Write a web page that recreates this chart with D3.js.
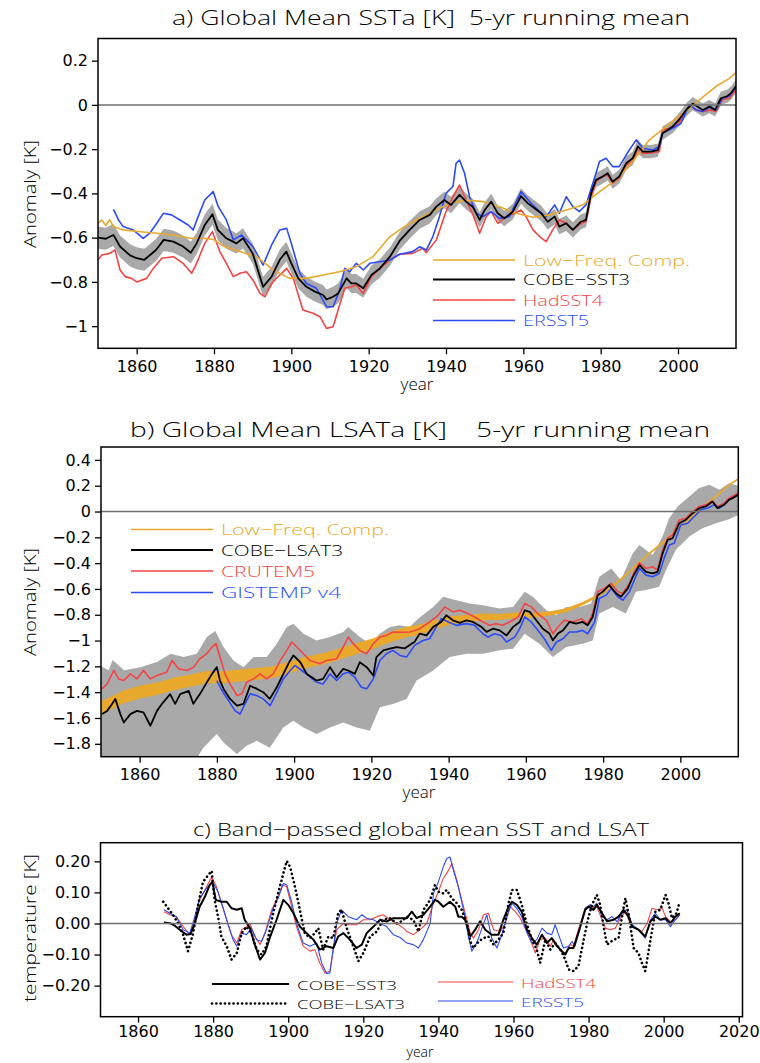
<!DOCTYPE html>
<html>
<head>
<meta charset="utf-8">
<script src="https://cdn.jsdelivr.net/npm/d3@7"></script>
<style>
  body { margin: 0; background: #fff; }
  svg text { font-family: "DejaVu Sans", sans-serif; fill: #000; white-space: pre; }
  svg text.thin { font-family: "Open Sans", "DejaVu Sans", sans-serif; font-weight: 300; }
</style>
</head>
<body>
<svg id="fig" width="760" height="1063"></svg>
<script>
// ---- panel a: global mean SST anomaly, 5-yr running mean [year, K]
const sstCobe = [[1850,-0.60],[1852,-0.605],[1854,-0.588],[1855.7,-0.64],[1858.3,-0.68],[1860,-0.693],[1862,-0.70],[1865,-0.656],[1867,-0.61],[1869.5,-0.618],[1872,-0.64],[1874,-0.668],[1875.5,-0.626],[1877.6,-0.543],[1879.6,-0.494],[1881,-0.565],[1883.2,-0.603],[1885.8,-0.626],[1887.5,-0.603],[1890,-0.671],[1892.7,-0.822],[1894.9,-0.776],[1897,-0.70],[1898.7,-0.663],[1900,-0.716],[1901.8,-0.784],[1903.9,-0.822],[1906.1,-0.844],[1908.2,-0.859],[1909.1,-0.879],[1910.8,-0.867],[1912.1,-0.852],[1914.3,-0.784],[1915.5,-0.807],[1916.8,-0.807],[1918.6,-0.829],[1920.7,-0.769],[1922.9,-0.739],[1925.5,-0.686],[1928,-0.615],[1930.6,-0.565],[1933.2,-0.52],[1935.8,-0.497],[1937.5,-0.46],[1939.6,-0.43],[1941.3,-0.452],[1943.5,-0.407],[1945.2,-0.437],[1946.9,-0.46],[1948.7,-0.52],[1950,-0.475],[1951.7,-0.437],[1953.4,-0.49],[1955.1,-0.513],[1957.3,-0.482],[1959.4,-0.412],[1961.2,-0.445],[1962.9,-0.467],[1964.6,-0.49],[1966.3,-0.528],[1968.1,-0.505],[1969.3,-0.55],[1971.1,-0.535],[1972.8,-0.565],[1974.9,-0.528],[1976.2,-0.52],[1977.5,-0.40],[1978.8,-0.339],[1980.5,-0.324],[1981.8,-0.309],[1983.1,-0.347],[1984.8,-0.324],[1986.6,-0.264],[1988.3,-0.241],[1989.6,-0.188],[1990.9,-0.211],[1993,-0.211],[1994.8,-0.204],[1996,-0.128],[1997.3,-0.113],[1998.6,-0.098],[2000.4,-0.064],[2002.1,-0.023],[2003.8,0.006],[2005.1,-0.008],[2006.4,-0.023],[2008.1,-0.008],[2009.6,-0.023],[2011.1,0.03],[2012.8,0.04],[2013.7,0.053],[2015,0.085]];
const sstSpread = [[1850,0.05],[1870,0.05],[1890,0.045],[1910,0.045],[1930,0.04],[1950,0.035],[1970,0.035],[1990,0.03],[2015,0.03]];
const sstLow = [[1850,-0.535],[1851,-0.52],[1852,-0.545],[1853,-0.52],[1854,-0.55],[1856.5,-0.565],[1860.9,-0.573],[1865.2,-0.58],[1869.5,-0.588],[1873.8,-0.603],[1877.2,-0.603],[1879.8,-0.608],[1882.4,-0.638],[1886.7,-0.663],[1891,-0.686],[1895.3,-0.746],[1899.6,-0.784],[1903.9,-0.784],[1908.2,-0.769],[1912.5,-0.754],[1916.8,-0.731],[1921.1,-0.686],[1925.5,-0.595],[1928,-0.565],[1930,-0.543],[1932.3,-0.52],[1936.6,-0.482],[1940.9,-0.445],[1945.2,-0.43],[1949.5,-0.437],[1953.8,-0.46],[1958.1,-0.49],[1962.5,-0.508],[1966.8,-0.497],[1971.1,-0.475],[1975.4,-0.452],[1979.7,-0.392],[1984,-0.339],[1988.3,-0.256],[1992.6,-0.158],[1996.9,-0.098],[2001.2,-0.038],[2005.5,0.023],[2009.8,0.083],[2013.3,0.12],[2015,0.146]];
const sstHad = [[1850,-0.70],[1851,-0.678],[1853,-0.671],[1854.4,-0.656],[1855.7,-0.746],[1857,-0.776],[1858.7,-0.784],[1860,-0.80],[1862.6,-0.784],[1864.3,-0.739],[1866.5,-0.693],[1869.5,-0.686],[1872,-0.716],[1874.2,-0.761],[1875.5,-0.716],[1877.6,-0.626],[1879.6,-0.573],[1881.5,-0.663],[1883.2,-0.716],[1885,-0.776],[1886.7,-0.761],[1888.4,-0.754],[1890.1,-0.792],[1891.9,-0.852],[1893.2,-0.867],[1894.9,-0.807],[1897,-0.769],[1898.8,-0.739],[1900.5,-0.784],[1903,-0.927],[1905.6,-0.942],[1907.4,-0.957],[1909.1,-1.01],[1910.8,-1.003],[1912.1,-0.927],[1913.8,-0.829],[1915.5,-0.822],[1916.8,-0.814],[1918.6,-0.852],[1920.7,-0.776],[1922.9,-0.739],[1925.5,-0.701],[1928,-0.675],[1931.4,-0.671],[1934,-0.648],[1934.9,-0.668],[1937.5,-0.61],[1940,-0.482],[1941.8,-0.415],[1943.5,-0.362],[1945.2,-0.43],[1947,-0.497],[1948.7,-0.58],[1950.4,-0.505],[1951.7,-0.482],[1953.4,-0.535],[1955.6,-0.505],[1957.7,-0.49],[1959.4,-0.475],[1960.7,-0.505],[1962.5,-0.565],[1964.2,-0.595],[1965.9,-0.618],[1967.6,-0.565],[1969.3,-0.52],[1971.1,-0.535],[1972.8,-0.565],[1974.9,-0.535],[1976.2,-0.528],[1977.5,-0.415],[1978.8,-0.347],[1980.5,-0.324],[1981.8,-0.317],[1983.1,-0.354],[1984.8,-0.332],[1986.6,-0.271],[1988.3,-0.256],[1989.6,-0.20],[1990.9,-0.219],[1993.5,-0.216],[1995.2,-0.211],[1996,-0.113],[1997.8,-0.106],[1999,-0.098],[2000.8,-0.068],[2002.9,0],[2004.7,-0.023],[2006.4,-0.03],[2008.5,-0.023],[2009.8,-0.03],[2011.5,0.023],[2013.3,0.03],[2015,0.068]];
const sstErs = [[1854,-0.472],[1855.3,-0.52],[1856.5,-0.55],[1859.1,-0.565],[1861.7,-0.603],[1863.4,-0.58],[1865.2,-0.535],[1866.9,-0.49],[1869,-0.497],[1871.2,-0.52],[1873.3,-0.543],[1874.6,-0.565],[1875.9,-0.505],[1877.6,-0.43],[1879.8,-0.392],[1881.1,-0.46],[1883.2,-0.52],[1885,-0.61],[1887.1,-0.588],[1888.4,-0.61],[1890.1,-0.641],[1892.7,-0.724],[1894.9,-0.633],[1897,-0.565],[1898.8,-0.558],[1900,-0.626],[1902.2,-0.761],[1903.9,-0.807],[1906.5,-0.829],[1909.1,-0.912],[1910.8,-0.912],[1912.5,-0.837],[1913.8,-0.739],[1915.1,-0.754],[1916.8,-0.716],[1918.6,-0.746],[1920.3,-0.716],[1922.9,-0.709],[1925.5,-0.701],[1928,-0.675],[1931.4,-0.663],[1933.2,-0.641],[1934.9,-0.656],[1936.6,-0.595],[1938.3,-0.505],[1940,-0.40],[1941.8,-0.369],[1942.6,-0.264],[1943.5,-0.249],[1944.8,-0.309],[1946.1,-0.415],[1947.8,-0.49],[1949.5,-0.505],[1951.7,-0.482],[1953.8,-0.513],[1956.4,-0.505],[1959.4,-0.392],[1961.6,-0.437],[1964.2,-0.482],[1965.9,-0.505],[1968.1,-0.452],[1969.3,-0.49],[1971.1,-0.415],[1972.8,-0.46],[1974.5,-0.482],[1976.2,-0.452],[1978,-0.354],[1979.7,-0.256],[1981.4,-0.241],[1983.1,-0.279],[1984.8,-0.279],[1987.4,-0.204],[1989.2,-0.158],[1990.9,-0.196],[1993.5,-0.204],[1995.2,-0.188],[1996,-0.128],[1998.6,-0.106],[2000.8,-0.083],[2002.9,0],[2004.7,-0.023],[2006.4,-0.03],[2008.5,-0.008],[2009.8,-0.023],[2011.5,0.03],[2013.3,0.04],[2015,0.08]];

// ---- panel b: global mean land surface air temperature anomaly [year, K]
const lsatCobe = [[1850.3,-1.57],[1851.6,-1.545],[1852.9,-1.49],[1853.7,-1.452],[1855,-1.57],[1855.9,-1.635],[1857.6,-1.57],[1859.3,-1.545],[1861,-1.556],[1862.8,-1.66],[1864.5,-1.545],[1865.8,-1.49],[1867.9,-1.415],[1869.2,-1.49],[1870.5,-1.415],[1872.7,-1.39],[1873.9,-1.49],[1875.6,-1.415],[1877.4,-1.324],[1878.7,-1.26],[1880,-1.206],[1880.8,-1.31],[1881.7,-1.373],[1883.4,-1.452],[1885.2,-1.505],[1886.9,-1.49],[1888.6,-1.35],[1890.3,-1.373],[1892,-1.40],[1893.7,-1.452],[1895.5,-1.362],[1896.8,-1.284],[1898.5,-1.18],[1899.8,-1.115],[1901.6,-1.168],[1903.3,-1.26],[1905.8,-1.31],[1907.5,-1.297],[1909.3,-1.206],[1911,-1.284],[1912.7,-1.219],[1914,-1.232],[1915.7,-1.258],[1917,-1.168],[1918.8,-1.206],[1920.5,-1.271],[1921.3,-1.128],[1923.1,-1.076],[1924.8,-1.063],[1926.5,-1.05],[1928.7,-1.06],[1930.4,-1.024],[1931.2,-1.01],[1932.5,-0.946],[1934.3,-0.96],[1936,-0.894],[1938.1,-0.856],[1939.4,-0.804],[1941.1,-0.843],[1942.9,-0.863],[1944.6,-0.843],[1946.3,-0.856],[1948.5,-0.894],[1949.8,-0.933],[1951.5,-0.908],[1953.2,-0.921],[1955,-0.96],[1956.7,-0.894],[1958.4,-0.856],[1959.7,-0.765],[1961,-0.778],[1962.7,-0.843],[1964.4,-0.908],[1966.1,-0.946],[1967,-0.998],[1968.3,-0.946],[1969.6,-0.921],[1971.3,-0.856],[1973,-0.869],[1974.7,-0.856],[1976,-0.882],[1977.3,-0.817],[1978.6,-0.648],[1979.9,-0.622],[1981.6,-0.57],[1983.4,-0.635],[1984.6,-0.661],[1986.4,-0.596],[1987.7,-0.506],[1989.4,-0.415],[1991.1,-0.467],[1992.8,-0.48],[1994.1,-0.467],[1995.4,-0.324],[1996.7,-0.22],[1998,-0.207],[1999.7,-0.091],[2001.4,-0.065],[2003.2,-0.013],[2004.9,0.026],[2006.6,0.039],[2008.3,0.078],[2009.6,0.026],[2011.3,0.052],[2012.6,0.091],[2013.5,0.104],[2015,0.13]];
const lsatBandHi = [[1850,-1.20],[1852,-1.23],[1853,-1.15],[1856,-1.23],[1860.2,-1.206],[1864.5,-1.167],[1868,-1.102],[1871.4,-1.128],[1874.8,-1.102],[1877.4,-0.973],[1879.6,-0.926],[1881.7,-1.05],[1884.3,-1.154],[1886.9,-1.206],[1889.5,-1.128],[1892.9,-1.128],[1895.5,-1.024],[1898.1,-0.895],[1899.8,-0.869],[1902.4,-0.947],[1905.8,-0.999],[1909.3,-0.973],[1912.7,-0.934],[1914,-0.895],[1917,-0.973],[1919.6,-1.024],[1922.2,-0.947],[1924.8,-0.895],[1927.3,-0.882],[1929.9,-0.895],[1932.1,-0.83],[1936,-0.739],[1938.6,-0.661],[1942,-0.687],[1945.5,-0.713],[1948.9,-0.726],[1953.2,-0.752],[1956.7,-0.739],[1959.7,-0.622],[1961.8,-0.661],[1965.3,-0.765],[1967.9,-0.804],[1970.4,-0.739],[1973.9,-0.739],[1976.9,-0.713],[1979,-0.506],[1982.1,-0.441],[1984.6,-0.531],[1987.7,-0.324],[1989.4,-0.259],[1992.8,-0.337],[1995.4,-0.194],[1997.1,-0.052],[1999.3,0.039],[2002.3,0.117],[2004.9,0.182],[2007.5,0.208],[2010.1,0.169],[2012.6,0.22],[2015,0.2]];
const lsatBandLo = [[1850,-2.0],[1873,-2.0],[1876.5,-1.83],[1880,-1.725],[1881.7,-1.79],[1885.2,-1.88],[1887.7,-1.816],[1890.3,-1.777],[1893.7,-1.83],[1897.2,-1.673],[1899.8,-1.621],[1902.4,-1.673],[1905.8,-1.725],[1909.3,-1.673],[1912.7,-1.634],[1916.2,-1.673],[1919.6,-1.699],[1922.2,-1.517],[1925.6,-1.491],[1929.1,-1.452],[1931.7,-1.31],[1936,-1.232],[1940.3,-1.128],[1944.6,-1.102],[1948.9,-1.102],[1953.2,-1.076],[1956.7,-1.063],[1959.7,-0.947],[1963.5,-1.024],[1967,-1.128],[1970.4,-1.05],[1974.7,-1.024],[1977.3,-0.999],[1979,-0.791],[1982.5,-0.739],[1985.9,-0.791],[1988.5,-0.622],[1991.1,-0.609],[1994.5,-0.583],[1996.3,-0.454],[1998.8,-0.298],[2002.3,-0.194],[2005.7,-0.13],[2009.2,-0.091],[2012.6,-0.06],[2015,-0.026]];
const lsatLow = [[1850.3,-1.517],[1855.9,-1.437],[1860.2,-1.398],[1864.5,-1.374],[1868.8,-1.336],[1873.1,-1.31],[1877.4,-1.284],[1881.7,-1.284],[1886,-1.271],[1890.3,-1.258],[1894.6,-1.245],[1899,-1.206],[1903.3,-1.167],[1907.6,-1.141],[1911.9,-1.102],[1916.2,-1.063],[1920.5,-1.024],[1924.8,-0.973],[1929.1,-0.934],[1931.7,-0.921],[1936,-0.882],[1940.3,-0.843],[1944.6,-0.83],[1948.9,-0.817],[1953.2,-0.817],[1957.5,-0.804],[1961.8,-0.804],[1966.1,-0.791],[1970.4,-0.765],[1974.7,-0.713],[1979,-0.648],[1983.4,-0.557],[1987.7,-0.441],[1992,-0.324],[1996.3,-0.22],[2000.6,-0.104],[2004.9,0.013],[2009.2,0.117],[2012.6,0.207],[2015,0.252]];
const lsatLowWidth = [[1850,0.05],[1900,0.045],[1930,0.04],[1950,0.025],[1970,0.015],[1985,0.008],[2015,0.006]];
const lsatCru = [[1850.3,-1.374],[1851.6,-1.335],[1853.3,-1.232],[1854.6,-1.297],[1855.9,-1.31],[1857.6,-1.258],[1859.3,-1.297],[1861,-1.232],[1862.8,-1.297],[1864.5,-1.271],[1867,-1.245],[1868.4,-1.155],[1870.1,-1.219],[1872.3,-1.232],[1874,-1.206],[1875.6,-1.141],[1877.4,-1.102],[1878.7,-1.05],[1879.8,-1.024],[1880.8,-1.128],[1882.1,-1.258],[1883.4,-1.336],[1885.2,-1.426],[1886.5,-1.413],[1887.7,-1.323],[1889.5,-1.297],[1891.2,-1.258],[1892.9,-1.297],[1894.6,-1.258],[1896.4,-1.155],[1898.1,-1.076],[1899.4,-1.011],[1900.7,-1.05],[1902.4,-1.102],[1904.1,-1.154],[1906.7,-1.18],[1908.4,-1.154],[1911,-1.141],[1912.7,-1.05],[1914,-0.973],[1915.3,-1.024],[1917,-1.076],[1918.8,-1.102],[1920.5,-1.024],[1922.2,-0.973],[1923.9,-0.96],[1925.6,-0.934],[1927.4,-0.935],[1930,-0.934],[1932.5,-0.908],[1935.1,-0.856],[1937.3,-0.804],[1939,-0.739],[1941.1,-0.778],[1942.9,-0.765],[1945,-0.791],[1946.7,-0.817],[1948.9,-0.856],[1950.6,-0.882],[1952.3,-0.869],[1954,-0.882],[1955.8,-0.856],[1958,-0.817],[1959.7,-0.713],[1961.4,-0.739],[1963.1,-0.791],[1965.3,-0.843],[1967,-0.947],[1968.3,-0.895],[1970,-0.843],[1972.2,-0.856],[1974.3,-0.83],[1976,-0.869],[1977.3,-0.791],[1978.6,-0.622],[1980.3,-0.596],[1982.1,-0.557],[1983.8,-0.622],[1985.1,-0.635],[1986.8,-0.557],[1988.1,-0.467],[1989.4,-0.397],[1991.1,-0.441],[1992.8,-0.428],[1994.1,-0.454],[1995.4,-0.298],[1996.7,-0.207],[1998,-0.181],[1999.7,-0.065],[2001.4,-0.052],[2003.2,0],[2004.9,0.039],[2006.6,0.052],[2008.3,0.083],[2009.6,0.039],[2011.3,0.065],[2012.6,0.104],[2015,0.145]];
const lsatGis = [[1880,-1.31],[1881.3,-1.387],[1883,-1.465],[1884.7,-1.543],[1886,-1.569],[1887.3,-1.491],[1888.6,-1.413],[1890.3,-1.426],[1892,-1.452],[1893.8,-1.504],[1895.1,-1.426],[1897.2,-1.297],[1899,-1.232],[1900.2,-1.193],[1902,-1.232],[1903.7,-1.271],[1905.8,-1.323],[1907.5,-1.336],[1909.3,-1.258],[1911,-1.31],[1912.7,-1.258],[1914,-1.245],[1915.7,-1.284],[1917.4,-1.362],[1918.8,-1.374],[1920.5,-1.297],[1922.2,-1.154],[1923.9,-1.102],[1925.6,-1.076],[1927.4,-1.115],[1929.1,-1.128],[1931.2,-1.037],[1933.4,-0.999],[1935.1,-0.986],[1936.8,-0.895],[1938.1,-0.83],[1939.9,-0.856],[1942,-0.882],[1944.6,-0.869],[1946.7,-0.882],[1948.9,-0.947],[1950.2,-0.973],[1951.9,-0.947],[1953.6,-0.96],[1955,-1.011],[1957.1,-0.973],[1958.4,-0.908],[1959.7,-0.817],[1961.4,-0.856],[1963.1,-0.921],[1964.8,-0.986],[1966.6,-1.076],[1967.9,-1.011],[1969.6,-0.986],[1971.3,-0.934],[1973,-0.934],[1974.7,-0.921],[1976,-0.947],[1977.8,-0.856],[1979,-0.674],[1980.8,-0.648],[1982.1,-0.596],[1983.8,-0.661],[1985.1,-0.687],[1986.8,-0.622],[1988.1,-0.531],[1989.4,-0.441],[1991.1,-0.493],[1992.8,-0.506],[1994.5,-0.48],[1995.8,-0.363],[1997.1,-0.259],[1998.4,-0.246],[2000.1,-0.104],[2001.9,-0.091],[2003.6,-0.039],[2005.3,0.013],[2007,0.026],[2008.8,0.052],[2010.1,0.026],[2011.3,0.052],[2012.6,0.091],[2015,0.13]];

// ---- panel c: band-passed global mean SST and LSAT [year, K]
const bpSstCobe = [[1866.9,0.003],[1868.5,0.001],[1869.8,-0.007],[1871.6,-0.025],[1872.9,-0.036],[1874,-0.034],[1875.1,0],[1876.4,0.054],[1877.8,0.086],[1879.1,0.124],[1879.8,0.134],[1880.7,0.076],[1882.2,0.07],[1883.6,0.07],[1884.9,0.049],[1886.3,0.044],[1887.6,0.049],[1888.4,0.012],[1889.8,-0.015],[1891.1,-0.068],[1892.5,-0.116],[1893.8,-0.095],[1895.2,-0.042],[1896.9,0.012],[1898.7,0.076],[1900,0.06],[1901.4,0.033],[1903.1,-0.01],[1904.9,-0.031],[1906.7,-0.052],[1908.4,-0.084],[1910.2,-0.073],[1912,-0.079],[1913.3,-0.042],[1914.7,-0.031],[1916.4,-0.052],[1918.2,-0.079],[1919.6,-0.068],[1920.9,-0.031],[1922.7,-0.01],[1924.5,0.012],[1926.2,0.006],[1928,0.017],[1930.2,0.017],[1931.6,0.017],[1932.9,0.038],[1934.2,0.017],[1936,0.028],[1937.8,0.054],[1939.1,0.076],[1940,0.07],[1941.3,0.054],[1943.1,0.07],[1944.5,0.054],[1945.3,0.022],[1946.2,0.022],[1947.1,0.012],[1948.5,-0.042],[1949.8,-0.02],[1951.1,0.007],[1952.5,-0.02],[1954.2,-0.036],[1956,-0.036],[1957.3,0.012],[1958.7,0.054],[1959.6,0.07],[1960.9,0.06],[1962.2,0.038],[1963.6,-0.02],[1964.9,-0.047],[1966.2,-0.068],[1967.6,-0.036],[1968.9,-0.063],[1970.2,-0.047],[1971.6,-0.073],[1972.9,-0.089],[1973.8,-0.1],[1974.7,-0.079],[1976,-0.079],[1977.8,-0.01],[1979.1,0.044],[1980,0.054],[1981.3,0.044],[1982.2,0.06],[1983.6,0.033],[1984.9,0.007],[1986.7,0.012],[1988,0.022],[1989.3,0.044],[1990.7,0.022],[1991.6,-0.01],[1993.3,-0.02],[1995.1,-0.042],[1996.5,0.007],[1997.8,0.022],[1999.1,0.012],[2000.5,0.017],[2001.8,0],[2003.1,0.022],[2004.3,0.033]];
const bpLsatCobe = [[1866.7,0.07],[1868,0.049],[1869.3,0.028],[1870.7,0],[1872,-0.036],[1873.3,-0.089],[1874.7,-0.031],[1876,0.06],[1877.3,0.134],[1878.7,0.156],[1879.6,0.169],[1880.4,0.076],[1881.3,0.022],[1882.2,-0.042],[1883.6,-0.073],[1884.9,-0.116],[1886.3,-0.095],[1887.6,-0.031],[1888.9,-0.01],[1890.2,-0.031],[1891.6,-0.084],[1892.9,-0.1],[1894.2,-0.073],[1896,0.033],[1897.3,0.097],[1898.7,0.161],[1899.6,0.201],[1900.5,0.182],[1901.8,0.118],[1903.1,0.044],[1904.4,-0.031],[1905.8,-0.047],[1907.1,-0.031],[1908,-0.015],[1909.3,-0.084],[1910.7,-0.042],[1912,-0.047],[1913.3,0.033],[1914.2,0.044],[1915.6,-0.015],[1917.3,-0.073],[1918.7,-0.121],[1920,-0.095],[1921.8,-0.042],[1923.6,-0.026],[1925.3,0.012],[1927.1,0.017],[1928.9,0],[1930.2,0.007],[1931.6,0.022],[1933.3,0.012],[1934.7,-0.026],[1936,0.044],[1937.8,0.076],[1939.1,0.124],[1940,0.102],[1941.3,0.097],[1942.2,0.108],[1943.6,0.081],[1944.9,0.065],[1946.2,0.044],[1947.6,0],[1948.5,-0.058],[1949.3,-0.079],[1950.7,-0.058],[1952,-0.047],[1953.3,-0.042],[1954.7,-0.068],[1956,-0.052],[1957.3,-0.031],[1958.7,0.065],[1959.6,0.108],[1960.9,0.108],[1962.2,0.06],[1963.6,-0.004],[1964.9,-0.052],[1966.2,-0.084],[1967.1,-0.127],[1968.5,-0.052],[1969.8,-0.084],[1971.1,-0.063],[1972.5,-0.084],[1973.8,-0.116],[1974.7,-0.148],[1976,-0.153],[1977.3,-0.137],[1978.7,-0.052],[1980,0.022],[1980.9,0.06],[1982.2,0.092],[1983.1,0.06],[1984,-0.01],[1984.9,-0.068],[1986.7,-0.052],[1988,-0.047],[1988.9,0.022],[1989.8,0.081],[1990.7,0.028],[1992,-0.079],[1993.3,-0.095],[1994.2,-0.127],[1995.1,-0.153],[1996.5,-0.052],[1997.8,0.038],[1999.1,0.044],[2000.5,0.092],[2001.3,0.065],[2002.2,0.017],[2003.4,0.033],[2004.3,0.07]];
const bpHad = [[1866.9,0.038],[1868.5,0.028],[1870.2,0.022],[1872,-0.01],[1873.8,-0.036],[1875.1,0.012],[1876.4,0.076],[1877.8,0.108],[1879.6,0.15],[1880.9,0.118],[1882.2,0.065],[1883.6,0.012],[1884.9,-0.036],[1886.3,-0.063],[1887.6,-0.02],[1888.9,-0.01],[1889.8,0],[1891.1,-0.042],[1892.5,-0.068],[1893.8,-0.031],[1895.6,0.044],[1896.9,0.076],[1898.5,0.124],[1899.6,0.118],[1900.9,0.054],[1902.2,-0.01],[1904,-0.073],[1905.8,-0.089],[1907.1,-0.084],[1908.4,-0.127],[1909.8,-0.159],[1911.1,-0.153],[1912.9,-0.02],[1914.7,0],[1916.4,-0.004],[1918.2,-0.004],[1920,0.012],[1921.8,0.012],[1923.6,0.022],[1925.3,0.028],[1927.1,0.012],[1928.9,0],[1930.7,-0.015],[1931.6,-0.026],[1933.3,-0.036],[1935.1,-0.02],[1936.9,0],[1938.7,0.065],[1940,0.102],[1941.3,0.145],[1942.7,0.171],[1943.6,0.193],[1944.9,0.14],[1946.2,0.076],[1947.6,0.012],[1948.5,-0.031],[1949.3,-0.047],[1950.7,-0.02],[1952,0.028],[1953.3,0.033],[1954.7,-0.02],[1956.5,-0.026],[1957.8,0],[1959.1,0.054],[1960.5,0.038],[1961.8,0.017],[1963.1,-0.015],[1964.5,-0.052],[1965.8,-0.095],[1967.1,-0.052],[1968.5,-0.047],[1969.8,-0.073],[1970.7,-0.052],[1972,-0.079],[1973.3,-0.1],[1974.2,-0.089],[1975.1,-0.068],[1976,-0.073],[1977.8,0],[1979.1,0.049],[1980.4,0.06],[1981.3,0.049],[1982.2,0.054],[1983.6,0.012],[1984.5,-0.015],[1985.8,-0.02],[1987.1,-0.015],[1988.5,0.017],[1989.8,0.038],[1991.1,0],[1992.5,-0.015],[1994.2,-0.026],[1995.6,0],[1996.9,0.049],[1998.2,0.044],[1999.6,0.049],[2000.5,0.022],[2001.8,0.006],[2003.1,0.012],[2004.3,0.028]];
const bpErs = [[1866.9,0.044],[1868.5,0.033],[1870.2,0.022],[1872,-0.02],[1873.8,-0.031],[1875.1,0.022],[1876.4,0.081],[1878.2,0.113],[1879.8,0.134],[1881.3,0.102],[1882.7,0.049],[1884,-0.004],[1885.3,-0.052],[1886.3,-0.073],[1887.6,-0.031],[1888.9,-0.036],[1890.2,-0.015],[1891.6,-0.052],[1892.9,-0.058],[1894.2,-0.02],[1896,0.049],[1897.3,0.081],[1898.7,0.129],[1899.6,0.124],[1900.9,0.07],[1902.2,0],[1904,-0.063],[1905.8,-0.073],[1907.6,-0.063],[1908.9,-0.127],[1910.2,-0.161],[1911.1,-0.159],[1912.9,0],[1914.2,0.044],[1916,0.022],[1918.2,0.012],[1919.6,0.028],[1920.9,0.017],[1922.7,0.012],[1924.5,0],[1926.2,-0.01],[1928,-0.036],[1929.8,-0.045],[1931.6,-0.063],[1933.3,-0.068],[1934.7,-0.079],[1936,-0.052],[1937.8,0],[1938.7,0.097],[1940,0.134],[1941.3,0.182],[1942.2,0.209],[1943.1,0.214],[1944,0.171],[1945.3,0.118],[1946.7,0.044],[1948,-0.042],[1948.9,-0.089],[1950.2,-0.063],[1951.6,-0.015],[1952.9,0.028],[1954.2,-0.047],[1955.6,-0.079],[1956.9,-0.036],[1958.2,0.022],[1959.6,0.065],[1960.9,0.049],[1962.2,0.022],[1963.6,-0.031],[1964.9,-0.063],[1966.2,-0.052],[1967.6,-0.015],[1968.9,-0.031],[1970.2,-0.036],[1971.1,-0.004],[1972,-0.036],[1973.3,-0.079],[1974.7,-0.073],[1975.6,-0.058],[1976.4,-0.073],[1977.8,-0.01],[1979.1,0.049],[1980.4,0.06],[1981.3,0.054],[1982.2,0.065],[1983.6,0.022],[1984.9,0.012],[1986.2,0.022],[1987.6,0.006],[1988.9,0.033],[1990.2,0.044],[1991.6,-0.004],[1993.3,-0.02],[1995.1,-0.047],[1996.5,0.012],[1997.8,0.033],[1999.1,0.012],[2000.5,0.012],[2001.8,-0.01],[2003.1,0.012],[2004.3,0.028]];

// ---- ticks
const yTicksA = [-1, -0.8, -0.6, -0.4, -0.2, 0, 0.2];
const yTicksB = [-1.8, -1.6, -1.4, -1.2, -1, -0.8, -0.6, -0.4, -0.2, 0, 0.2, 0.4];
const yTicksC = [-0.2, -0.1, 0, 0.1, 0.2];
const xTicksAB = [1860, 1880, 1900, 1920, 1940, 1960, 1980, 2000];
const xTicksC = [1860, 1880, 1900, 1920, 1940, 1960, 1980, 2000, 2020];

const ORANGE = '#e8a92c', RED = '#f44444', BLUE = '#2b4bfb', BAND = '#a9a9a9';

const svg = d3.select('#fig');

function label(x, y, s, o = {}) {
  const t = svg.append('text').attr('x', x).attr('y', y).text(s)
    .attr('xml:space', 'preserve')
    .attr('font-size', o.size || 16)
    .attr('text-anchor', o.anchor || 'start')
    .classed('thin', !!o.thin);
  if (o.len) t.attr('textLength', o.len).attr('lengthAdjust', 'spacingAndGlyphs');
  if (o.fill) t.style('fill', o.fill);
  if (o.rotate) t.attr('transform', `rotate(-90,${x},${y})`);
  return t;
}

function frame(p, id) {
  const x = d3.scaleLinear().domain(p.xd).range([p.l, p.r]);
  const y = d3.scaleLinear().domain(p.yd).range([p.b, p.t]);
  svg.append('clipPath').attr('id', id).append('rect')
    .attr('x', p.l).attr('y', p.t).attr('width', p.r - p.l).attr('height', p.b - p.t);
  const g = svg.append('g').attr('clip-path', `url(#${id})`);
  return {x, y, g};
}

function axes(p, s, yTicks, xTicks, yFmt, xPad) {
  const ya = svg.append('g').attr('transform', `translate(${p.l},0)`)
    .call(d3.axisLeft(s.y).tickValues(yTicks).tickFormat(yFmt).tickSize(6).tickPadding(4));
  const xa = svg.append('g').attr('transform', `translate(0,${p.b})`)
    .call(d3.axisBottom(s.x).tickValues(xTicks).tickFormat(d3.format('d')).tickSize(6).tickPadding(xPad || 6));
  [ya, xa].forEach(a => {
    a.select('.domain').remove();
    a.selectAll('line').attr('stroke', '#000').attr('stroke-width', 1.3);
    a.selectAll('text').attr('font-size', 16).attr('font-family', '"DejaVu Sans", sans-serif');
  });
  // zero line
  svg.append('line').attr('x1', p.l).attr('x2', p.r).attr('y1', s.y(0)).attr('y2', s.y(0))
    .attr('stroke', '#707070').attr('stroke-width', 1.5);
}

function box(p) {
  svg.append('rect').attr('x', p.l).attr('y', p.t).attr('width', p.r - p.l).attr('height', p.b - p.t)
    .attr('fill', 'none').attr('stroke', '#000').attr('stroke-width', 1.5);
}

function drawLine(s, data, color, w, dash) {
  const path = s.g.append('path').datum(data)
    .attr('d', d3.line().x(d => s.x(d[0])).y(d => s.y(d[1])))
    .attr('fill', 'none').attr('stroke', color).attr('stroke-width', w)
    .attr('stroke-linejoin', 'round');
  if (dash) path.attr('stroke-dasharray', dash).attr('stroke-linecap', 'round');
  return path;
}

function legendRow(x1, x2, y, name, color, w, dash, len, size) {
  const l = svg.append('line').attr('x1', x1).attr('x2', x2).attr('y1', y).attr('y2', y)
    .attr('stroke', color).attr('stroke-width', w);
  if (dash) l.attr('stroke-dasharray', dash).attr('stroke-linecap', 'round');
  label(x2 + 8, y + 5.5, name, {size: size || 15, len: len, thin: true, fill: color});
}

const fmtAB = d3.format('~g');

// ================= panel a =================
const pa = {l: 98, r: 736, t: 38.5, b: 348.3, xd: [1850, 2015], yd: [-1.1, 0.3]};
const sa = frame(pa, 'clipA');
const spreadA = d3.scaleLinear().domain(sstSpread.map(d => d[0])).range(sstSpread.map(d => d[1]));
sa.g.append('path').datum(sstCobe)
  .attr('d', d3.area().x(d => sa.x(d[0]))
    .y0(d => sa.y(d[1] - spreadA(d[0]))).y1(d => sa.y(d[1] + spreadA(d[0]))))
  .attr('fill', BAND);
axes(pa, sa, yTicksA, xTicksAB, fmtAB);
drawLine(sa, sstHad, RED, 1.6);
drawLine(sa, sstErs, BLUE, 1.6);
drawLine(sa, sstLow, ORANGE, 1.6);
drawLine(sa, sstCobe, '#000', 1.8);
box(pa);
label(431, 25, 'a) Global Mean SSTa [K]  5-yr running mean', {size: 20, anchor: 'middle', len: 518, thin: true});
label(36, 194, 'Anomaly [K]', {size: 16, anchor: 'middle', len: 108, rotate: true, thin: true});
label(417, 390, 'year', {size: 17, anchor: 'middle', thin: true});
legendRow(433, 515, 260, 'Low\u2212Freq. Comp.', ORANGE, 1.6, null, 167);
legendRow(433, 515, 279.5, 'COBE\u2212SST3', '#000', 1.8, null, 107);
legendRow(433, 515, 300, 'HadSST4', RED, 1.6, null, 80);
legendRow(433, 515, 320.5, 'ERSST5', BLUE, 1.6, null, 66);

// ================= panel b =================
const pb = {l: 101, r: 738.3, t: 447, b: 756.7, xd: [1850, 2015], yd: [-1.9, 0.5]};
const sb = frame(pb, 'clipB');
const bandB = lsatBandHi.concat(lsatBandLo.slice().reverse());
sb.g.append('path')
  .attr('d', d3.line().x(d => sb.x(d[0])).y(d => sb.y(d[1]))(bandB) + 'Z')
  .attr('fill', BAND);
axes(pb, sb, yTicksB, xTicksAB, fmtAB);
const lowW = d3.scaleLinear().domain(lsatLowWidth.map(d => d[0])).range(lsatLowWidth.map(d => d[1]));
sb.g.append('path').datum(lsatLow)
  .attr('d', d3.area().x(d => sb.x(d[0]))
    .y0(d => sb.y(d[1] - lowW(d[0]))).y1(d => sb.y(d[1] + lowW(d[0]))))
  .attr('fill', ORANGE);
drawLine(sb, lsatLow, ORANGE, 1.6);
drawLine(sb, lsatCru, RED, 1.6);
drawLine(sb, lsatGis, BLUE, 1.6);
drawLine(sb, lsatCobe, '#000', 1.8);
box(pb);
label(420, 437, 'b) Global Mean LSATa [K]    5-yr running mean', {size: 20, anchor: 'middle', len: 580, thin: true});
label(36, 602, 'Anomaly [K]', {size: 16, anchor: 'middle', len: 108, rotate: true, thin: true});
label(419, 798, 'year', {size: 17, anchor: 'middle', thin: true});
legendRow(131, 213, 529.5, 'Low\u2212Freq. Comp.', ORANGE, 1.6, null, 168);
legendRow(131, 213, 550, 'COBE\u2212LSAT3', '#000', 1.8, null, 122);
legendRow(131, 213, 571, 'CRUTEM5', RED, 1.6, null, 94);
legendRow(131, 213, 592.5, 'GISTEMP v4', BLUE, 1.6, null, 120);

// ================= panel c =================
const pc = {l: 100.5, r: 742.5, t: 842.7, b: 1016.7, xd: [1850, 2021], yd: [-0.3, 0.26]};
const sc = frame(pc, 'clipC');
axes(pc, sc, yTicksC, xTicksC, d3.format('.2f'), 3);
drawLine(sc, bpHad, RED, 1.1);
drawLine(sc, bpErs, BLUE, 1.1);
drawLine(sc, bpSstCobe, '#000', 2);
drawLine(sc, bpLsatCobe, '#000', 2.6, '0.1,4.2');
box(pc);
label(421, 836, 'c) Band\u2212passed global mean SST and LSAT', {size: 19, anchor: 'middle', len: 456, thin: true});
label(36, 928, 'temperature [K]', {size: 16, anchor: 'middle', len: 148, rotate: true, thin: true});
label(420, 1057, 'year', {size: 14, anchor: 'middle', thin: true});
legendRow(212, 289, 984, 'COBE\u2212SST3', '#000', 2, null, 100, 13.5);
legendRow(212, 289, 1003.5, 'COBE\u2212LSAT3', '#000', 2.6, '0.1,4.2', 108, 13.5);
legendRow(438, 513, 982, 'HadSST4', RED, 1.2, null, 75, 13.5);
legendRow(438, 513, 1001, 'ERSST5', BLUE, 1.2, null, 63, 13.5);
</script>
</body>
</html>
